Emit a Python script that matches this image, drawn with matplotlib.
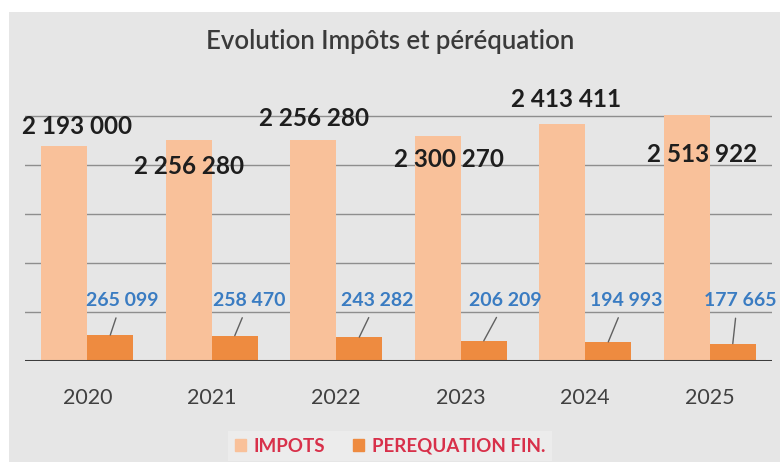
import matplotlib
matplotlib.use("Agg")
import matplotlib.pyplot as plt
from matplotlib.patches import Rectangle, Patch
import numpy as np

years = ["2020", "2021", "2022", "2023", "2024", "2025"]
impots = [2193000, 2256280, 2256280, 2300270, 2413411, 2513922]
impots_labels = ["2 193 000", "2 256 280", "2 256 280", "2 300 270", "2 413 411", "2 513 922"]
pereq = [265099, 258470, 243282, 206209, 194993, 177665]
pereq_labels = ["265 099", "258 470", "243 282", "206 209", "194 993", "177 665"]
series_names = ["IMPOTS", "PEREQUATION FIN."]
title = "Evolution Impôts et péréquation"

# label placement (pixel offsets, styles)
imp_dx = [13, 0, 1, 11, 4, 15]
imp_dy = [20, -27, 21, -24, 25, -40]
peq_dx = [0.10, 0.12, 0.14, 0.17, 0.14, 0.06]

FONT = "Lato"
W, H = 780, 462
fig = plt.figure(figsize=(W / 100, H / 100), dpi=100)
fig.patch.set_facecolor("white")
fig.add_artist(Rectangle((9 / W, 0), 1, 1 - 12 / H, transform=fig.transFigure,
                         facecolor="#e6e6e6", edgecolor="none", zorder=-10))

ax = fig.add_axes([25 / W, 1 - 361 / H, (772 - 25) / W, (361 - 106) / H])
ax.set_facecolor("none")
for s in ax.spines.values():
    s.set_visible(False)

x = np.arange(len(years))
bw = 0.37
c_imp = "#f9c19a"
c_peq = "#ee8b40"
ax.set_xlim(-0.5, len(years) - 0.5)
ax.set_ylim(0, 2602000)
for g in [500000, 1000000, 1500000, 2000000, 2500000]:
    ax.axhline(g, color="#8e8e8e", lw=1, zorder=1)
ax.axhline(0, color="#3c3c3c", lw=2.2, zorder=4)

ax.bar(x - bw / 2, impots, bw, color=c_imp, zorder=2, label=series_names[0])
ax.bar(x + bw / 2, pereq, bw, color=c_peq, zorder=2, label=series_names[1])

for i in range(len(years)):
    ax.annotate(impots_labels[i], (x[i] - bw / 2, impots[i]),
                xytext=(imp_dx[i], imp_dy[i]), textcoords="offset pixels",
                ha="center", va="center", fontsize=17.5, fontweight="bold",
                color="#1e1e1e", family=FONT, zorder=5)
    ax.annotate(pereq_labels[i], xy=(x[i] + bw / 2, pereq[i]),
                xytext=(x[i] + bw / 2 + peq_dx[i], 622000), textcoords="data",
                ha="center", va="center", fontsize=14, fontweight="bold",
                color="#3a7cc2", family=FONT, zorder=5,
                arrowprops=dict(arrowstyle="-", color="#606060", lw=1,
                                relpos=(0.45, 0), shrinkA=5, shrinkB=0))

ax.set_xticks(x)
ax.set_xticklabels(years, fontsize=15.5, color="#404040", family=FONT)
ax.tick_params(axis="x", length=0, pad=19.5)
ax.set_yticks([])

fig.text(0.5, 1 - 42 / H, title, ha="center", va="center", fontsize=18.5,
         fontweight="semibold", color="#3a3a3a", family=FONT)

handles = [Patch(color=c_imp), Patch(color=c_peq)]
leg = fig.legend(handles, series_names, loc="center", bbox_to_anchor=(0.5, 1 - 446 / H),
                 ncol=2, frameon=True, facecolor="#eeeeee", edgecolor="none",
                 handlelength=0.6, handleheight=0.6, handletextpad=0.4, columnspacing=1.5,
                 prop=dict(family=FONT, weight="bold", size=13.5), labelcolor="#d8304a",
                 fancybox=False, borderpad=0.35)

fig.savefig("out.png", dpi=100, facecolor=fig.get_facecolor())
